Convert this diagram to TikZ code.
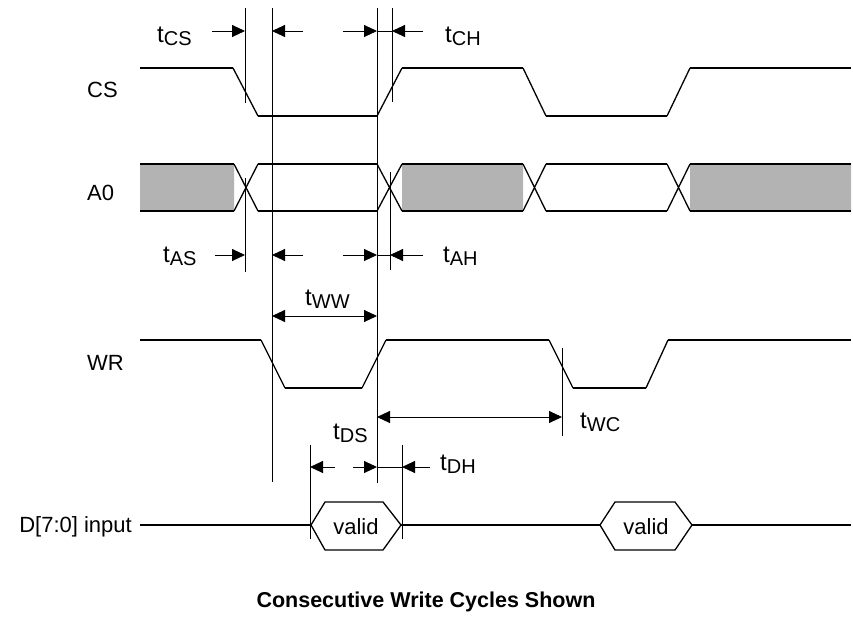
\documentclass[tikz,border=0pt]{standalone}
\usepackage{fontspec}
\setmainfont{Liberation Sans}
\usetikzlibrary{arrows.meta}
\definecolor{BusGray}{RGB}{179,179,179}
\newcommand{\tsub}[1]{{\fontsize{24}{28}\selectfont t}\raisebox{-3pt}{#1}}

\begin{document}
\begin{tikzpicture}[x=1pt,y=-1pt,
	sig/.style={line width=2.2pt},
	slope/.style={line width=1.3pt},
	guide/.style={line width=0.9pt},
	dim/.style={line width=0.9pt,-{Triangle[length=13pt,width=12pt]}},
	dimboth/.style={line width=0.9pt,{Triangle[length=13pt,width=12pt]}-{Triangle[length=13pt,width=12pt]}},
	txt/.style={font=\fontsize{22}{26}\selectfont,inner sep=0pt},
	tsubtxt/.style={font=\fontsize{20}{24}\selectfont,inner sep=0pt,anchor=base west}]
	\useasboundingbox (0,0) rectangle (853,616);
	% signal names
	\node[txt,anchor=base west] (cs) at (87,97) {CS};
	\node[txt,anchor=base west] (a0) at (87,200) {A0};
	\node[txt,anchor=base west] (wr) at (87,370) {WR};
	\node[txt,anchor=base east] (din) at (132,532) {D[7:0] input};
	% CS
	\draw[sig] (140,68) -- (233,68) (258,116) -- (377,116) (402,68) -- (523,68) (546,116) -- (667,116) (690,68) -- (851,68);
	\draw[slope] (233,68) -- (258,116) (377,116) -- (402,68) (523,68) -- (546,116) (667,116) -- (690,68);
	% A0
	\fill[BusGray] (140,164) rectangle (234,211) (402,164) rectangle (523,211) (690,164) rectangle (851,211);
	\foreach \A/\B in {140/234, 258/377, 402/523, 546/667, 690/851}
	{\draw[sig] (\A,164) -- (\B,164) (\A,211) -- (\B,211);}
	\foreach \A/\B in {234/258, 377/402, 523/546, 667/690}
	{\draw[slope] (\A,164) -- (\B,211) (\A,211) -- (\B,164);}
	% WR
	\draw[sig] (140,340) -- (261,340) (285,388) -- (362,388) (386,340) -- (549,340) (573,388) -- (646,388) (668,340) -- (851,340);
	\draw[slope] (261,340) -- (285,388) (362,388) -- (386,340) (549,340) -- (573,388) (646,388) -- (668,340);
	% D[7:0]
	\draw[sig] (140,525) -- (311,525) (401,525) -- (600,525) (692,525) -- (851,525);
	\draw[slope] (311,525) -- (325,502) -- (383,502) -- (401,525) -- (383,550) -- (325,550) -- cycle;
	\draw[slope] (600,525) -- (615,502) -- (675,502) -- (692,525) -- (675,550) -- (615,550) -- cycle;
	\node[txt] (valid1) at (356,527) {valid};
	\node[txt] (valid2) at (646,527) {valid};
	% guide lines
	\foreach \X/\T/\B in {245/8/103, 245/178/272, 272/8/482, 377/8/483, 392/8/102, 390/172/270, 562/348/436, 310/445/539, 402/445/539}
	{\draw[guide] (\X,\T) -- (\X,\B);}
	% timing arrows
	\draw[dim] (212,31) -- (245,31);
	\draw[dim] (303,31) -- (272,31);
	\draw[dim] (343,31) -- (377,31);
	\draw[dim] (423,31) -- (392,31);
	\draw[guide] (377,31) -- (392,31);
	\draw[dim] (215,255) -- (245,255);
	\draw[dim] (303,255) -- (272,255);
	\draw[dim] (343,255) -- (377,255);
	\draw[dim] (423,255) -- (390,255);
	\draw[guide] (377,255) -- (390,255);
	\draw[dimboth] (272,316) -- (377,316);
	\draw[dimboth] (377,417) -- (562,417);
	\draw[dim] (335,467) -- (310,467);
	\draw[dim] (353,467) -- (377,467);
	\draw[dim] (430,467) -- (402,467);
	\draw[guide] (377,467) -- (402,467);
	% timing names
	\node[tsubtxt] (tcs) at (157,42) {\tsub{CS}};
	\node[tsubtxt] (tch) at (445,42) {\tsub{CH}};
	\node[tsubtxt] (tas) at (163,262) {\tsub{AS}};
	\node[tsubtxt] (tah) at (443,262) {\tsub{AH}};
	\node[tsubtxt] (tww) at (305,305) {\tsub{WW}};
	\node[tsubtxt] (twc) at (580,428) {\tsub{WC}};
	\node[tsubtxt] (tds) at (333,439) {\tsub{DS}};
	\node[tsubtxt] (tdh) at (440,470) {\tsub{DH}};
	\node[font=\fontsize{21.5}{26}\selectfont\bfseries,inner sep=0pt,anchor=base] (title) at (426,607) {Consecutive Write Cycles Shown};
\end{tikzpicture}
\end{document}
